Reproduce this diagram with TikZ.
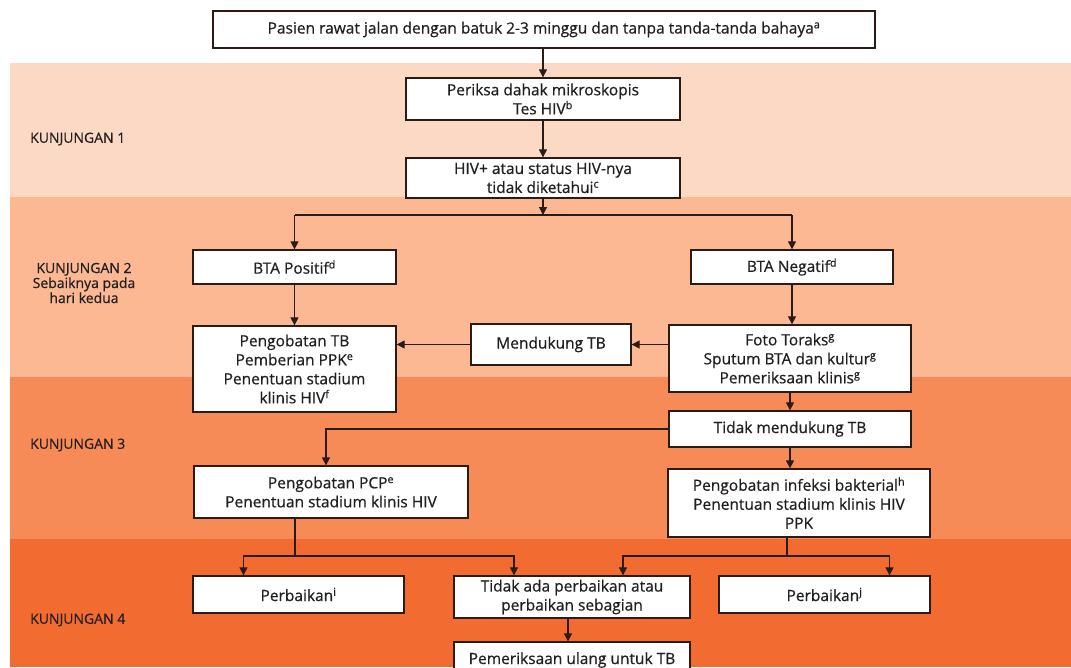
\documentclass[tikz,border=0pt]{standalone}
\usepackage{fontspec}
\setmainfont{Open Sans}[FakeBold=0.6]
\usetikzlibrary{arrows.meta}
\definecolor{pitasatu}{HTML}{FCD9C5}
\definecolor{pitadua}{HTML}{FBB892}
\definecolor{pitatiga}{HTML}{F68B57}
\definecolor{pitaempat}{HTML}{F26B31}
\definecolor{hitam}{HTML}{2A1B14}
\definecolor{teks}{HTML}{231F20}
\begin{document}
\begin{tikzpicture}[x=1pt,y=-1pt,
    kotak/.style={draw=hitam,fill=white,line width=1.3pt,align=center,inner sep=0pt,
        text=teks,font=\fontsize{15.5}{19}\selectfont},
    kunjungan/.style={text=teks,align=center,inner sep=0pt,font=\fontsize{14}{15}\selectfont},
    jalur/.style={draw=hitam,line width=1.2pt},
    panah/.style={jalur,-{Triangle[length=8pt,width=8pt]}}]
    \useasboundingbox (0,0) rectangle (1071,667);
    \clip (0,0) rectangle (1071,667);

    %Franjas de fondo
    \fill[white] (0,0) rectangle (1071,667);
    \fill[pitasatu] (10,63) rectangle (1071,197);
    \fill[pitadua] (10,197) rectangle (1071,377);
    \fill[pitatiga] (10,377) rectangle (1071,539);
    \fill[pitaempat] (10,539) rectangle (1071,667);

    %Etiquetas
    \node[kunjungan,anchor=west] (k1) at (30,139) {KUNJUNGAN 1};
    \node[kunjungan] (k2) at (84,283) {KUNJUNGAN 2\\Sebaiknya pada\\hari kedua};
    \node[kunjungan,anchor=west] (k3) at (30,445) {KUNJUNGAN 3};
    \node[kunjungan,anchor=west] (k4) at (30,620) {KUNJUNGAN 4};

    %Cajas
    \node[kotak,minimum width=662,minimum height=37] (awal) at (544,29.5)
        {Pasien rawat jalan dengan batuk 2-3 minggu dan tanpa tanda-tanda bahaya\textsuperscript{a}};
    \node[kotak,minimum width=274,minimum height=42] (periksa) at (543,99)
        {Periksa dahak mikroskopis\\Tes HIV\textsuperscript{b}};
    \node[kotak,minimum width=274,minimum height=40] (hiv) at (543,178)
        {HIV+ atau status HIV-nya\\tidak diketahui\textsuperscript{c}};
    \node[kotak,minimum width=203,minimum height=34] (btapos) at (294.5,267)
        {BTA Positif\textsuperscript{d}};
    \node[kotak,minimum width=202,minimum height=34] (btaneg) at (792,267)
        {BTA Negatif\textsuperscript{d}};
    \node[kotak,minimum width=203,minimum height=86] (pengobatan) at (294.5,369)
        {Pengobatan TB\\Pemberian PPK\textsuperscript{e}\\Penentuan stadium\\klinis HIV\textsuperscript{f}};
    \node[kotak,minimum width=160,minimum height=41] (mendukung) at (551,344.5)
        {Mendukung TB};
    \node[kotak,minimum width=242,minimum height=67] (foto) at (790,358.5)
        {Foto Toraks\textsuperscript{g}\\Sputum BTA dan kultur\textsuperscript{g}\\Pemeriksaan klinis\textsuperscript{g}};
    \node[kotak,minimum width=242,minimum height=36] (tidakdukung) at (790,429)
        {Tidak mendukung TB};
    \node[kotak,minimum width=274,minimum height=52] (pcp) at (331,492)
        {Pengobatan PCP\textsuperscript{e}\\Penentuan stadium klinis HIV};
    \node[kotak,minimum width=262,minimum height=68] (infeksi) at (799,503)
        {Pengobatan infeksi bakterial\textsuperscript{h}\\Penentuan stadium klinis HIV\\PPK};
    \node[kotak,minimum width=211,minimum height=37] (perbaikansatu) at (298.5,594.5)
        {Perbaikan\textsuperscript{i}};
    \node[kotak,minimum width=236,minimum height=42] (tidakada) at (572,597)
        {Tidak ada perbaikan atau\\perbaikan sebagian};
    \node[kotak,minimum width=211,minimum height=37] (perbaikandua) at (824.5,594.5)
        {Perbaikan\textsuperscript{j}};
    \node[kotak,minimum width=236,minimum height=36] (ulang) at (572,660)
        {Pemeriksaan ulang untuk TB};

    %Flechas
    \draw[panah] (awal.south -| periksa) -- (periksa);
    \draw[panah] (periksa) -- (hiv);
    \coordinate (cabang) at (543,215);
    \draw[panah] (hiv) -- (cabang);
    \draw[jalur] (cabang -| btapos) -- (cabang -| btaneg);
    \draw[panah] (cabang -| btapos) -- (btapos);
    \draw[panah] (cabang -| btaneg) -- (btaneg);
    \draw[panah] (btapos) -- (pengobatan);
    \draw[panah] (btaneg) -- (btaneg |- foto.north);
    \draw[panah] (foto.west |- mendukung) -- (mendukung);
    \draw[panah] (mendukung) -- (mendukung -| pengobatan.east);
    \draw[panah] (foto) -- (tidakdukung);
    \draw[panah] (tidakdukung) -| ([xshift=-5pt]pcp.north);
    \draw[panah] (tidakdukung) -- (tidakdukung |- infeksi.north);

    \coordinate (pisahkiri) at (295,556);
    \coordinate (pisahkanan) at (787,556);
    \draw[jalur] (pcp.south -| pisahkiri) -- (pisahkiri);
    \draw[jalur] (infeksi.south -| pisahkanan) -- (pisahkanan);
    \draw[panah] (pisahkiri) -| ([xshift=-55pt]perbaikansatu.north);
    \draw[panah] (pisahkiri) -| ([xshift=-58pt]tidakada.north);
    \draw[panah] (pisahkanan) -| ([xshift=51pt]tidakada.north);
    \draw[panah] (pisahkanan) -| ([xshift=65pt]perbaikandua.north);
    \draw[panah] ([xshift=-4pt]tidakada.south) -- ([xshift=-4pt]ulang.north);
\end{tikzpicture}
\end{document}
